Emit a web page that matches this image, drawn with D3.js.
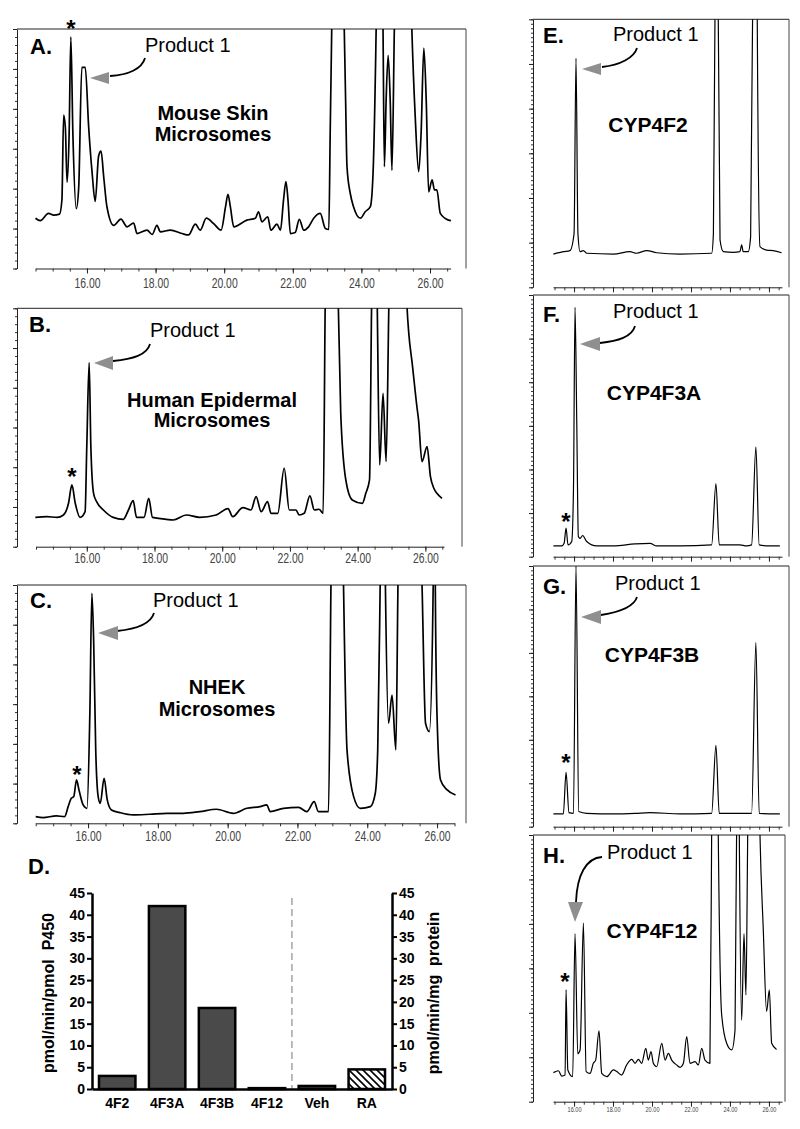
<!DOCTYPE html>
<html><head><meta charset="utf-8">
<script src="https://cdn.jsdelivr.net/npm/d3@7"></script>
<style>
body{margin:0;background:#fff}
svg{display:block}
text{font-family:"Liberation Sans",Arial,Helvetica,sans-serif}
</style>
</head><body>
<svg id="fig" width="800" height="1129"></svg>
<script>
// ---------- DATA ----------
// chromatogram traces: [retention time (min), signal (% of full scale)]
const traceA = [[14.5,21],[14.64,20],[14.88,23],[15.03,22.3],[15.2,22.7],[15.27,28.6],[15.32,64],[15.37,59],[15.42,36],[15.48,56],[15.53,96.7],[15.59,56],[15.69,25],[15.76,34],[15.85,84],[15.95,84],[16.05,59],[16.15,40],[16.24,28],[16.34,47],[16.41,49],[16.49,38],[16.58,26],[16.78,18],[16.99,20.6],[17.17,17.4],[17.36,19],[17.46,14.6],[17.75,16],[17.9,14.2],[18.04,18],[18.14,15.3],[18.43,16],[18.77,14.6],[18.96,14],[19.16,18.5],[19.3,16],[19.48,21],[19.69,18.8],[19.91,16],[20.04,25.8],[20.11,31],[20.18,25.8],[20.28,17.4],[20.66,20.2],[20.91,21],[21.0,23.7],[21.1,19.5],[21.27,21.6],[21.36,16],[21.54,18.5],[21.64,16],[21.73,28.6],[21.8,36.3],[21.86,28.6],[21.93,14.6],[22.07,15],[22.19,20.5],[22.32,16],[22.46,17.4],[22.61,21],[22.8,23],[22.95,16.7],[23.05,16.3],[23.09,56.5],[23.14,105],[23.3,300],[23.5,100],[23.54,70],[23.58,42.5],[23.68,31],[23.77,25.8],[23.97,21],[24.11,23.7],[24.26,25.8],[24.34,40],[24.43,100],[24.52,200],[24.63,100],[24.67,42.5],[24.72,70],[24.78,89],[24.84,70],[24.89,41],[24.96,100],[25.2,300],[25.47,100],[25.57,63],[25.67,40.4],[25.74,56.5],[25.82,92],[25.89,70],[25.96,32],[26.06,37],[26.13,32.8],[26.2,32.8],[26.3,23],[26.54,20.2],[26.61,20]];
const traceB = [[14.48,12.3],[14.82,12.6],[15.12,12.3],[15.31,13.3],[15.46,18.2],[15.56,25.9],[15.66,18.2],[15.8,12.3],[15.95,14.7],[16.0,42],[16.07,77.2],[16.12,42],[16.2,22.4],[16.29,18.9],[16.49,15.4],[16.78,12.3],[17.08,11.5],[17.23,15.4],[17.37,19.3],[17.47,12.3],[17.69,12.3],[17.83,20.3],[17.94,12.3],[18.35,11.5],[18.55,11.2],[18.94,13.3],[19.33,12.3],[19.82,13.3],[20.17,16],[20.31,12.6],[20.61,16.4],[20.85,15.4],[21.0,21],[21.15,14.7],[21.34,18.9],[21.44,14],[21.64,14],[21.83,32.9],[21.98,15.4],[22.18,15.4],[22.27,13.3],[22.42,14],[22.59,21.3],[22.72,15.4],[22.86,15.7],[22.98,14],[23.04,100],[23.25,300],[23.43,100],[23.5,56],[23.65,28],[23.84,19.6],[24.14,18.2],[24.24,22.4],[24.35,28],[24.41,100],[24.5,200],[24.58,100],[24.65,34.3],[24.75,64.3],[24.84,35.7],[24.92,100],[25.2,300],[25.46,100],[25.51,89.5],[25.61,77],[25.75,58.7],[25.8,53],[25.9,35.7],[26.05,42],[26.15,29.4],[26.25,24.5],[26.34,22.4],[26.49,20.3]];
const traceC = [[14.5,2.8],[14.71,2.4],[15.09,3.1],[15.33,2.8],[15.43,7],[15.52,10.5],[15.59,11.2],[15.67,18.2],[15.74,14],[15.86,7.7],[15.97,6.3],[16.05,44.8],[16.11,96.5],[16.16,77],[16.22,30.8],[16.29,11.2],[16.35,8.4],[16.46,18.9],[16.55,9.8],[16.67,5.6],[16.91,4.5],[17.29,3.5],[17.77,3.8],[18.25,4.2],[18.73,4.2],[19.2,4.9],[19.68,5.9],[20.16,4.2],[20.55,6.3],[20.93,7],[21.12,7.7],[21.22,4.9],[21.6,6.3],[22.03,6.7],[22.27,4.9],[22.48,9.1],[22.6,4.9],[22.89,4.9],[22.96,100],[23.15,300],[23.32,100],[23.42,30.8],[23.61,11.2],[23.8,6.3],[24.09,7],[24.23,12.6],[24.3,30.8],[24.37,100],[24.45,200],[24.52,100],[24.61,42],[24.71,53.8],[24.82,30.8],[24.88,100],[25.2,300],[25.57,100],[25.67,42],[25.78,38.5],[25.89,100],[25.92,200],[25.95,100],[26.0,44.8],[26.1,18.2],[26.29,14],[26.53,11.9]];
const traceE = [[14.94,12.4],[15.45,13.3],[15.79,13.7],[16.0,20],[16.1,85.4],[16.2,20],[16.31,13.3],[16.48,13.7],[16.65,12.7],[18.02,12.4],[18.87,13.3],[19.2,12.7],[19.73,13.7],[20.24,12.9],[21.44,12.4],[23.06,12.7],[23.15,20],[23.23,100],[23.32,300],[23.4,100],[23.49,17.7],[23.66,13.3],[24.17,13],[24.51,13.3],[24.6,15.8],[24.68,13.3],[24.94,13.3],[25.06,18.9],[25.16,100],[25.28,300],[25.4,100],[25.54,15.2],[25.88,13.9],[26.22,13.7],[26.65,12.9]];
const traceF = [[14.94,4.1],[15.37,4.1],[15.49,5.1],[15.59,10.9],[15.69,4.5],[15.88,5.8],[15.97,25.6],[16.05,95.3],[16.14,51],[16.22,7.7],[16.31,7],[16.44,8.1],[16.65,5.8],[17.16,4.1],[18.02,4.1],[19.13,4.9],[19.9,5.1],[20.24,4.1],[21.44,4.1],[23.06,4.5],[23.28,27.9],[23.45,4.5],[24.51,4.5],[24.85,4.1],[25.11,4.5],[25.33,42],[25.5,4.5],[26.05,4.1],[26.56,4.1]];
const traceG = [[14.94,4.9],[15.45,4.9],[15.59,20.8],[15.74,5.4],[15.97,5.1],[16.1,100],[16.24,5.8],[16.65,5.1],[18.02,4.9],[19.13,5.1],[19.9,5.4],[21.44,4.9],[23.06,5.1],[23.28,31.2],[23.45,5.1],[25.11,5.1],[25.33,70.6],[25.5,5.1],[26.56,4.9]];
const traceH = [[14.94,10.9],[15.2,11.6],[15.37,9.6],[15.54,10],[15.59,42],[15.68,11.9],[15.93,9.4],[16.05,63],[16.19,18],[16.31,19.4],[16.48,67],[16.62,11.3],[16.82,10.6],[16.99,14.4],[17.11,15.6],[17.28,26.6],[17.42,10.6],[17.68,9.4],[18.02,11.9],[18.19,11.3],[18.44,10],[18.7,13.8],[18.96,15.9],[19.13,14.4],[19.3,15.9],[19.47,14.4],[19.68,20],[19.81,15.6],[19.95,18.8],[20.07,14.4],[20.24,13.1],[20.5,21.9],[20.67,15.6],[20.84,18.1],[21.01,15.6],[21.26,13.8],[21.44,12.9],[21.61,14.4],[21.78,24.4],[21.95,14.4],[22.21,15],[22.38,13.8],[22.55,20],[22.72,15.6],[22.97,14.4],[23.06,100],[23.2,300],[23.4,100],[23.57,33],[23.83,21.9],[24.09,19.4],[24.26,26.9],[24.34,100],[24.4,200],[24.48,100],[24.6,30.6],[24.72,63],[24.82,40],[24.91,100],[25.2,300],[25.54,100],[25.71,64.4],[25.88,33.8],[26.02,41.9],[26.14,21.9],[26.39,19.6]];

const timeTickValues = [16, 18, 20, 22, 24, 26];
const panelLetters = ["A.", "B.", "C.", "D.", "E.", "F.", "G.", "H."];
const sampleNames = [["Mouse Skin","Microsomes"],["Human Epidermal","Microsomes"],["NHEK","Microsomes"],["CYP4F2"],["CYP4F3A"],["CYP4F3B"],["CYP4F12"]];
const productLabel = "Product 1";

// bar chart (panel D)
const barCategories = ["4F2", "4F3A", "4F3B", "4F12", "Veh", "RA"];
const barValues = [3.0, 42.0, 18.6, 0.2, 0.7, 4.5];
const barTicks = [0, 5, 10, 15, 20, 25, 30, 35, 40, 45];
const leftAxisLabel = "pmol/min/pmol\u00A0\u00A0P450";
const rightAxisLabel = "pmol/min/mg\u00A0\u00A0protein";

// ---------- DRAW ----------
const svg = d3.select("#fig");
svg.append("rect").attr("width", 800).attr("height", 1129).attr("fill", "#fff");
const defs = svg.append("defs");

const panels = [
  {id:"A", data:traceA, letter:panelLetters[0], names:sampleNames[0], left:17, right:466, top:29, axisY:268.5, domain:[14.5,26.6], ax:[35.5,450.6], labelY:288, labels:true, lw:1.7, nMajor:6, nMinor:5,
   letterPos:[30,54], namePos:[213,120,21], nameSize:20,
   prod:[145,52], arrow:"M145,58 C142,69 128,75 110,76", head:[[90,78],[109,72],[109,84]], star:[71,24]},
  {id:"B", data:traceB, letter:panelLetters[1], names:sampleNames[1], left:17, right:462, top:308.3, axisY:546.7, domain:[14.5,26.55], ax:[36,444], labelY:563, labels:true, lw:1.7, nMajor:6, nMinor:5,
   letterPos:[29,332], namePos:[212,407,20], nameSize:20,
   prod:[150,337], arrow:"M150,344 C147,355 133,359 113,361", head:[[94,363],[113,356],[113,370]], star:[72,472]},
  {id:"C", data:traceC, letter:panelLetters[2], names:sampleNames[2], left:17, right:466, top:585, axisY:823.3, domain:[14.5,26.5], ax:[35.7,454.5], labelY:841, labels:true, lw:1.7, nMajor:6, nMinor:5,
   letterPos:[30,608], namePos:[217,694,22], nameSize:20,
   prod:[153,607], arrow:"M154,613 C151,623 137,629 117,631", head:[[98,633],[118,626],[118,640]], star:[77,770]},
  {id:"E", data:traceE, letter:panelLetters[4], names:sampleNames[3], left:533, right:789, top:19.3, axisY:287.3, domain:[14.92,26.67], ax:[553,782], labelY:0, labels:false, lw:1.2, nMajor:6, nMinor:10,
   letterPos:[543,43], namePos:[648,132,0], nameSize:21,
   prod:[613,41], arrow:"M637,48 C634,58 620,65 602,67", head:[[582,69],[601,63],[601,75]], star:null},
  {id:"F", data:traceF, letter:panelLetters[5], names:sampleNames[4], left:533, right:789, top:295, axisY:556.7, domain:[14.92,26.67], ax:[553,782], labelY:0, labels:false, lw:1.2, nMajor:6, nMinor:10,
   letterPos:[543,322], namePos:[654,400,0], nameSize:21,
   prod:[613,318], arrow:"M635,326 C632,337 618,341 600,343", head:[[580,344],[600,337],[600,351]], star:[566,517]},
  {id:"G", data:traceG, letter:panelLetters[6], names:sampleNames[5], left:533, right:789, top:566, axisY:826.7, domain:[14.92,26.67], ax:[553,782], labelY:0, labels:false, lw:1.2, nMajor:6, nMinor:10,
   letterPos:[543,594], namePos:[652,662,0], nameSize:21,
   prod:[615,590], arrow:"M637,597 C634,607 620,612 601,615", head:[[581,617],[601,610],[601,624]], star:[566,758]},
  {id:"H", data:traceH, letter:panelLetters[7], names:sampleNames[6], left:533, right:785, top:835, axisY:1101.7, domain:[14.92,26.67], ax:[553,782], labelY:1112, labels:true, lw:1.2, nMajor:6, nMinor:10,
   letterPos:[543,863], namePos:[652,938,0], nameSize:21,
   prod:[607,859], arrow:"M602,857 C586,858 577,875 576,902", head:[[575,922],[568,902],[583,902]], star:[565,977]}
];

function chromPanel(p) {
  const g = svg.append("g").attr("class", "panel-" + p.id);
  const x = d3.scaleLinear().domain(p.domain).range(p.ax);
  const y = d3.scaleLinear().domain([0, 100]).range([p.axisY, p.top]);

  // frame: top and right lines
  g.append("line").attr("x1", p.left).attr("x2", p.right).attr("y1", p.top).attr("y2", p.top)
    .attr("stroke", "#222").attr("stroke-width", 1);
  g.append("line").attr("x1", p.right).attr("x2", p.right).attr("y1", p.top).attr("y2", p.axisY)
    .attr("stroke", "#444").attr("stroke-width", 1);

  // left intensity axis (unlabelled) with minor ticks
  const yt = d3.scaleLinear().domain([0, p.nMajor]).range([p.axisY, p.top]);
  const minorVals = d3.range(0, p.nMajor * p.nMinor + 1).map(i => i / p.nMinor);
  g.append("g").attr("transform", `translate(${p.left},0)`)
    .call(d3.axisLeft(yt).tickValues(minorVals).tickSize(2).tickSizeOuter(0).tickFormat(""))
    .call(s => s.selectAll("line").attr("stroke", "#333"))
    .call(s => s.select(".domain").attr("stroke", "#222"));
  g.append("g").attr("transform", `translate(${p.left},0)`)
    .call(d3.axisLeft(yt).tickValues(d3.range(0, p.nMajor + 1)).tickSize(4).tickSizeOuter(0).tickFormat(""))
    .call(s => s.select(".domain").remove())
    .call(s => s.selectAll("line").attr("stroke", "#222"));

  // time axis
  const minorT = d3.range(Math.ceil(p.domain[0] * 2) / 2, p.domain[1] + 0.001, 0.5);
  g.append("g").attr("transform", `translate(0,${p.axisY})`)
    .call(d3.axisBottom(x).tickValues(minorT).tickSize(3).tickSizeOuter(0).tickFormat(""))
    .call(s => s.select(".domain").attr("stroke", "#222"))
    .call(s => s.selectAll("line").attr("stroke", "#333"));
  const major = g.append("g").attr("transform", `translate(0,${p.axisY})`)
    .call(d3.axisBottom(x).tickValues(timeTickValues).tickSize(5).tickSizeOuter(0).tickFormat(d3.format(".2f")));
  major.select(".domain").remove();
  major.selectAll("line").attr("stroke", "#222");
  if (p.labels) {
    const big = p.id !== "H";
    major.selectAll("text")
      .attr("y", null).attr("dy", null)
      .attr("transform", `translate(0,${p.labelY - p.axisY})`)
      .attr("font-size", big ? 14 : 7)
      .attr("textLength", big ? 26 : 14)
      .attr("lengthAdjust", "spacingAndGlyphs")
      .attr("fill", "#444")
      .attr("font-family", "'Liberation Sans',Arial,sans-serif");
  } else {
    major.selectAll("text").remove();
  }

  // trace, clipped at the frame (off-scale peaks)
  const cid = "clip" + p.id;
  defs.append("clipPath").attr("id", cid).append("rect")
    .attr("x", p.left).attr("y", p.top).attr("width", p.right - p.left).attr("height", p.axisY - p.top);
  const line = d3.line().x(d => x(d[0])).y(d => y(d[1])).curve(d3.curveMonotoneX);
  g.append("path").datum(p.data).attr("clip-path", `url(#${cid})`)
    .attr("d", line).attr("fill", "none").attr("stroke", "#000")
    .attr("stroke-width", p.lw).attr("stroke-linejoin", "round");

  // annotations
  g.append("text").attr("x", p.letterPos[0]).attr("y", p.letterPos[1])
    .attr("font-size", 22).attr("font-weight", "bold").text(p.letter);
  p.names.forEach((nm, i) => {
    g.append("text").attr("x", p.namePos[0]).attr("y", p.namePos[1] + i * p.namePos[2])
      .attr("text-anchor", "middle").attr("font-size", p.nameSize).attr("font-weight", "bold").text(nm);
  });
  g.append("text").attr("x", p.prod[0]).attr("y", p.prod[1]).attr("font-size", 20).text(productLabel);
  g.append("path").attr("d", p.arrow).attr("fill", "none").attr("stroke", "#000").attr("stroke-width", 1.8);
  g.append("polygon").attr("points", p.head.map(d => d.join(",")).join(" ")).attr("fill", "#8f8f8f");
  if (p.star) {
    g.append("text").attr("x", p.star[0]).attr("y", p.star[1] + 13).attr("text-anchor", "middle")
      .attr("font-size", 24).attr("font-weight", "bold").text("*");
  }
}
panels.forEach(chromPanel);

// ---------- panel D: bar chart ----------
const D = {left: 92, right: 392, y0: 1089, y45: 893};
const gD = svg.append("g");
const xb = d3.scaleBand().domain(barCategories).range([D.left, D.right]).paddingInner(0.27).paddingOuter(0.14);
const yb = d3.scaleLinear().domain([0, 45]).range([D.y0, D.y45]);

const pat = defs.append("pattern").attr("id", "hatch").attr("patternUnits", "userSpaceOnUse")
  .attr("width", 7).attr("height", 7);
pat.append("rect").attr("width", 7).attr("height", 7).attr("fill", "#fff");
pat.append("path").attr("d", "M-1,-1 L8,8 M-1,6 L1,8 M6,-1 L8,1").attr("stroke", "#000").attr("stroke-width", 1.6);

gD.append("text").attr("x", 28).attr("y", 874).attr("font-size", 22).attr("font-weight", "bold").text(panelLetters[3]);

gD.selectAll("rect.bar").data(barCategories).enter().append("rect")
  .attr("class", "bar")
  .attr("x", d => xb(d)).attr("width", xb.bandwidth())
  .attr("y", (d, i) => yb(barValues[i])).attr("height", (d, i) => yb(0) - yb(barValues[i]))
  .attr("fill", d => d === "RA" ? "url(#hatch)" : "#4a4a4a")
  .attr("stroke", "#000").attr("stroke-width", 2.5);

// dashed separator between recombinant enzymes and keratinocyte treatments
const sepX = (xb("4F12") + xb.bandwidth() + xb("Veh")) / 2;
gD.append("line").attr("x1", sepX).attr("x2", sepX).attr("y1", yb(45) + 5).attr("y2", yb(0))
  .attr("stroke", "#aaa").attr("stroke-width", 1.6).attr("stroke-dasharray", "7,4");

const axL = gD.append("g").attr("transform", `translate(${D.left},0)`)
  .call(d3.axisLeft(yb).tickValues(barTicks).tickSize(5).tickSizeOuter(0).tickPadding(2));
const axR = gD.append("g").attr("transform", `translate(${D.right},0)`)
  .call(d3.axisRight(yb).tickValues(barTicks).tickSize(5).tickSizeOuter(0).tickPadding(2));
[axL, axR].forEach(a => {
  a.select(".domain").attr("stroke", "#000").attr("stroke-width", 2.5);
  a.selectAll("line").attr("stroke", "#000").attr("stroke-width", 2);
  a.selectAll("text").attr("font-size", 14).attr("font-weight", "bold").attr("fill", "#000")
    .attr("font-family", "'Liberation Sans',Arial,sans-serif");
});
const axB = gD.append("g").attr("transform", `translate(0,${D.y0})`)
  .call(d3.axisBottom(xb).tickSize(0).tickSizeOuter(0).tickPadding(9));
axB.select(".domain").attr("stroke", "#000").attr("stroke-width", 2.5);
axB.selectAll("text").attr("font-size", 14).attr("font-weight", "bold").attr("fill", "#000")
  .attr("font-family", "'Liberation Sans',Arial,sans-serif");

gD.append("text").attr("transform", `translate(54,${(D.y0 + D.y45) / 2 + 2}) rotate(-90)`)
  .attr("text-anchor", "middle").attr("font-size", 16).attr("font-weight", "bold").text(leftAxisLabel);
gD.append("text").attr("transform", `translate(439,${(D.y0 + D.y45) / 2 + 2}) rotate(-90)`)
  .attr("text-anchor", "middle").attr("font-size", 16).attr("font-weight", "bold").text(rightAxisLabel);
</script>
</body></html>
